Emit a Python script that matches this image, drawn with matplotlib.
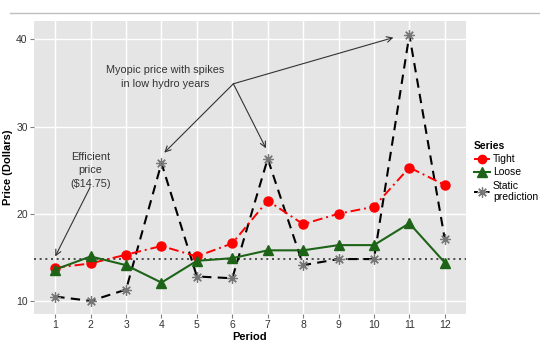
import matplotlib
matplotlib.use("Agg")
import matplotlib.pyplot as plt
from matplotlib.lines import Line2D

plt.rcParams['font.family'] = ['Liberation Sans', 'DejaVu Sans']

periods = [1, 2, 3, 4, 5, 6, 7, 8, 9, 10, 11, 12]
tight = [13.8, 14.3, 15.3, 16.3, 15.1, 16.6, 21.5, 18.8, 20.0, 20.8, 25.3, 23.3]
loose = [13.6, 15.1, 14.1, 12.1, 14.6, 14.9, 15.8, 15.8, 16.4, 16.4, 18.9, 14.4]
static = [10.5, 10.0, 11.3, 25.8, 12.8, 12.6, 26.3, 14.1, 14.8, 14.8, 40.5, 17.1]
efficient_price = 14.75
yticks = [10, 20, 30, 40]

fig = plt.figure(figsize=(5.4, 3.49), dpi=100)
# separator line at top
fig.add_artist(Line2D([10/540, 1.0], [1-13/349, 1-13/349], color='#bfbfbf', lw=1.0))

ax = fig.add_axes([34/540, 1-314/349, (466-34)/540, (314-21)/349])
ax.set_facecolor('#e5e5e5')
for s in ax.spines.values():
    s.set_visible(False)
ax.set_xlim(0.4, 12.6)
ax.set_ylim(8.5, 42.1)
ax.set_xticks(periods)
ax.set_yticks(yticks)
ax.grid(True, color='white', lw=1.0)
ax.set_axisbelow(True)
ax.tick_params(axis='both', colors='#7f7f7f', labelcolor='#333333', labelsize=7.5,
               length=3, width=0.8, pad=1.5)

ax.axhline(efficient_price, color='#333333', lw=1.2, ls=(0, (1.2, 2.2)), zorder=2)

ax.plot(periods, static, color='black', lw=1.5, ls=(0, (4.5, 3)), zorder=3)
ax.plot(periods, static, ls='none', marker=(8, 2, 0), markersize=7.5, mew=0.9,
        color='#777777', zorder=4)
ax.plot(periods, tight, color='red', lw=1.4, ls=(0, (5, 2, 1, 2)), marker='o',
        markersize=6.5, zorder=5)
ax.plot(periods, loose, color='#1e6418', lw=1.5, ls='-', marker='^',
        markersize=7, zorder=5)

ax.set_xlabel('Period', fontsize=8, fontweight='bold', labelpad=1)
ax.set_ylabel('Price (Dollars)', fontsize=8, fontweight='bold', labelpad=2)

# annotations
ax.text(4.1, 35.7, 'Myopic price with spikes\nin low hydro years', ha='center', va='center',
        fontsize=7.8, color='#333333', linespacing=1.5)
arrow = dict(arrowstyle='->', color='#333333', lw=0.8, shrinkA=0, shrinkB=0)
for tx, ty in [(10.55, 40.2), (4.08, 27.0), (6.95, 27.5)]:
    ax.annotate('', xy=(tx, ty), xytext=(6.03, 34.9), arrowprops=arrow)
ax.text(2.0, 25.0, 'Efficient\nprice\n($14.75)', ha='center', va='center',
        fontsize=7.8, color='#333333', linespacing=1.45)
ax.annotate('', xy=(1.0, 15.1), xytext=(1.98, 23.0), arrowprops=arrow)

handles = [
    Line2D([], [], color='red', lw=1.4, ls=(0, (3, 1, 1, 1)), marker='o', markersize=6),
    Line2D([], [], color='#1e6418', lw=1.5, marker='^', markersize=6.5),
    Line2D([], [], color='black', lw=1.4, ls=(0, (2, 1)), marker=(8, 2, 0), markersize=7.5,
           mec='#777777', mew=0.9),
]
leg = fig.legend(handles, ['Tight', 'Loose', 'Static\nprediction'], title='Series',
                 loc='upper left', bbox_to_anchor=(470/540, 1-137/349), frameon=False,
                 fontsize=7.5, title_fontsize=7.5, handlelength=1.5, handletextpad=0.3,
                 labelspacing=0.3, borderaxespad=0, alignment='left')
leg.get_title().set_fontweight('bold')

fig.savefig('out.png', dpi=100)
